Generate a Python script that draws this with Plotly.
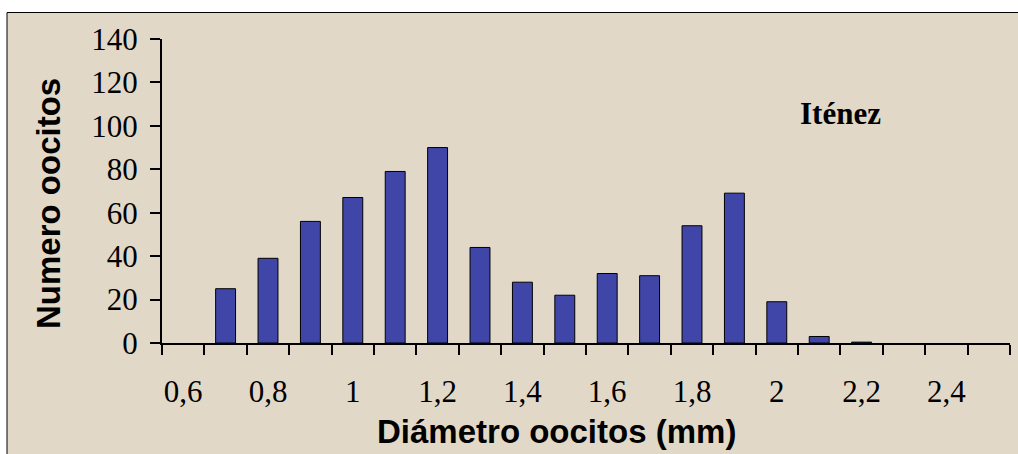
import plotly.graph_objects as go

# ---- data ----
diametro = [0.6, 0.7, 0.8, 0.9, 1.0, 1.1, 1.2, 1.3, 1.4, 1.5,
            1.6, 1.7, 1.8, 1.9, 2.0, 2.1, 2.2, 2.3, 2.4, 2.5]
numero = [0, 25, 39, 56, 67, 79, 90, 44, 28, 22,
          32, 31, 54, 69, 19, 3, 0.4, 0, 0, 0]
label_vals = [0.6, 0.8, 1.0, 1.2, 1.4, 1.6, 1.8, 2.0, 2.2, 2.4]
label_text = ["0,6", "0,8", "1", "1,2", "1,4", "1,6", "1,8", "2", "2,2", "2,4"]
boundaries = [round(0.55 + 0.1 * k, 2) for k in range(21)]
y_ticks = [0, 20, 40, 60, 80, 100, 120, 140]

# ---- layout geometry (pixels) ----
W, H = 1018, 454
L, R, T, B = 162, 8, 39, 111
pw, ph = W - L - R, H - T - B


def px(x):
    return (x - L) / pw


def py(y):
    return (H - B - y) / ph


BG = "#E2D8C8"
BAR = "#4046A8"

fig = go.Figure()
fig.add_trace(go.Bar(
    x=diametro, y=numero,
    marker=dict(color=BAR,
                line=dict(color="black",
                          width=[1 if v > 0 else 0 for v in numero])),
    hoverinfo="x+y",
))

fig.update_layout(
    width=W, height=H,
    margin=dict(l=L, r=R, t=T, b=B, pad=0),
    paper_bgcolor="white",
    plot_bgcolor="rgba(0,0,0,0)",
    bargap=0.53,
    showlegend=False,
    font=dict(family="Liberation Serif", color="black"),
    xaxis=dict(
        type="linear",
        range=[0.55, 2.55],
        tickmode="array",
        tickvals=label_vals,
        ticktext=label_text,
        ticks="outside", ticklen=10, tickcolor="rgba(0,0,0,0)",
        ticklabelstandoff=10,
        tickfont=dict(family="Liberation Serif", size=31, color="black"),
        minor=dict(tickmode="array", tickvals=boundaries, ticks="outside",
                   ticklen=10, tickwidth=2, tickcolor="black", showgrid=False),
        showline=True, linecolor="black", linewidth=2,
        showgrid=False, zeroline=False, fixedrange=True,
    ),
    yaxis=dict(
        range=[0, 140],
        tickmode="array", tickvals=y_ticks,
        ticks="outside", ticklen=10, tickwidth=2, tickcolor="black",
        ticklabelstandoff=6,
        tickfont=dict(family="Liberation Serif", size=31, color="black"),
        showline=True, linecolor="black", linewidth=2,
        showgrid=False, zeroline=False, fixedrange=True,
    ),
    shapes=[dict(
        type="rect", xref="paper", yref="paper", layer="below",
        x0=px(7), x1=px(1030), y0=py(12.5), y1=py(470),
        fillcolor=BG, line=dict(color="black", width=1),
    )],
    annotations=[
        dict(text="<b>Iténez</b>", xref="paper", yref="paper",
             x=px(840), y=py(113), showarrow=False,
             xanchor="center", yanchor="middle",
             font=dict(family="Liberation Serif", size=31, color="black")),
        dict(text="<b>Numero oocitos</b>", xref="paper", yref="paper",
             x=px(48), y=py(204), showarrow=False, textangle=-90,
             xanchor="center", yanchor="middle",
             font=dict(family="Liberation Sans", size=33, color="black")),
        dict(text="<b>Diámetro oocitos (mm)</b>", xref="paper", yref="paper",
             x=px(556), y=py(432), showarrow=False,
             xanchor="center", yanchor="middle",
             font=dict(family="Liberation Sans", size=33, color="black")),
    ],
)

fig.write_html("out.html", config={"displayModeBar": False})
